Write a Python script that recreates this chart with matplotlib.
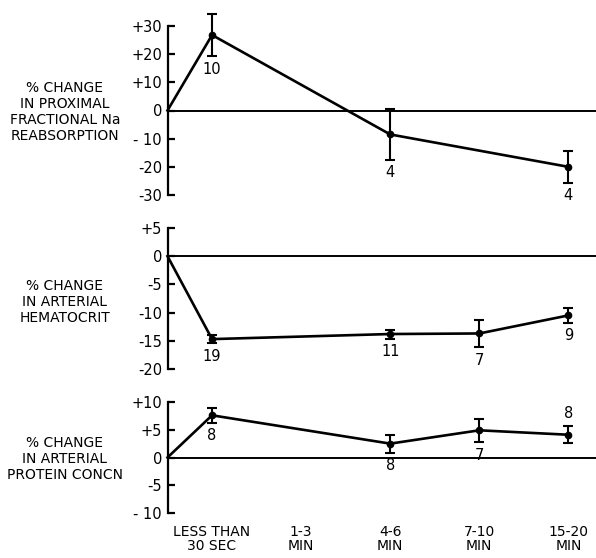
import matplotlib.pyplot as plt

# time categories (x positions 0..4), the curve starts at the y axis
categories = ["LESS THAN\n30 SEC", "1-3\nMIN", "4-6\nMIN", "7-10\nMIN", "15-20\nMIN"]
start_x = -0.5

# % change in proximal fractional Na reabsorption
na_idx = [0, 2, 4]
na_mean = [26.8, -8.5, -20.0]
na_err = [7.5, 9.0, 5.7]
na_n = ["10", "4", "4"]

# % change in arterial hematocrit
hct_idx = [0, 2, 3, 4]
hct_mean = [-14.7, -13.8, -13.7, -10.5]
hct_err = [0.7, 0.8, 2.4, 1.3]
hct_n = ["19", "11", "7", "9"]

# % change in arterial protein concn
prot_idx = [0, 2, 3, 4]
prot_mean = [7.6, 2.5, 4.9, 4.1]
prot_err = [1.3, 1.6, 2.1, 1.5]
prot_n = ["8", "8", "7", "8"]
prot_n_above = [False, False, False, True]

plt.rcParams['font.family'] = ['DejaVu Sans']

W, H = 596, 558
fig = plt.figure(figsize = (W / 100, H / 100), dpi = 100)


def panel(top_px, bot_px, ylim, yticks, yticklabels, label, label_y_px):
    x0 = 167.5
    ax = fig.add_axes([x0 / W, 1 - bot_px / H, (W - x0) / W, (bot_px - top_px) / H])
    ax.set_xlim(start_x, 4.31)
    ax.set_ylim(ylim)
    for s in ['top', 'right', 'bottom']:
        ax.spines[s].set_visible(False)
    ax.spines['left'].set_linewidth(1.6)
    ax.set_yticks(yticks)
    ax.set_yticklabels(yticklabels)
    ax.tick_params(axis = 'y', direction = 'in', length = 5, width = 1.6,
                   labelsize = 10.5, pad = 4)
    ax.set_xticks([])
    ax.axhline(0, color = 'black', lw = 1.4)
    fig.text(65 / W, 1 - label_y_px / H, label, ha = 'center', va = 'center',
             fontsize = 10, linespacing = 1.2)
    return ax


def series(ax, idx, mean, err, n, above = None):
    xs = [start_x] + list(idx)
    ys = [0] + list(mean)
    ax.plot(xs, ys, color = 'black', lw = 1.9, clip_on = False)
    ax.errorbar(idx, mean, yerr = err, fmt = 'o', color = 'black', ms = 4.5,
                elinewidth = 1.5, capsize = 3.5, capthick = 1.5, clip_on = False)
    for i, (x, m, e, t) in enumerate(zip(idx, mean, err, n)):
        if above is not None and above[i]:
            ax.annotate(t, (x, m + e), xytext = (0, 4), textcoords = 'offset points',
                        ha = 'center', va = 'bottom', fontsize = 10.5, annotation_clip = False)
        else:
            ax.annotate(t, (x, m - e), xytext = (0, -4), textcoords = 'offset points',
                        ha = 'center', va = 'top', fontsize = 10.5, annotation_clip = False)


ax1 = panel(26, 195, (-30, 30), [30, 20, 10, 0, -10, -20, -30],
            ['+30', '+20', '+10', '0', '- 10', '-20', '-30'],
            '% CHANGE\nIN PROXIMAL\nFRACTIONAL Na\nREABSORPTION', 112)
series(ax1, na_idx, na_mean, na_err, na_n)

ax2 = panel(228, 369, (-20, 5), [5, 0, -5, -10, -15, -20],
            ['+5', '0', '-5', '-10', '-15', '-20'],
            '% CHANGE\nIN ARTERIAL\nHEMATOCRIT', 302)
series(ax2, hct_idx, hct_mean, hct_err, hct_n)

ax3 = panel(402, 513, (-10, 10), [10, 5, 0, -5, -10],
            ['+10', '+5', '0', '-5', '- 10'],
            '% CHANGE\nIN ARTERIAL\nPROTEIN CONCN', 459)
series(ax3, prot_idx, prot_mean, prot_err, prot_n, prot_n_above)
ax3.set_xticks(range(len(categories)))
ax3.set_xticklabels(categories, fontsize = 10, linespacing = 1.0)
ax3.tick_params(axis = 'x', length = 0, pad = 9)

fig.savefig('out.png', dpi = 100)
